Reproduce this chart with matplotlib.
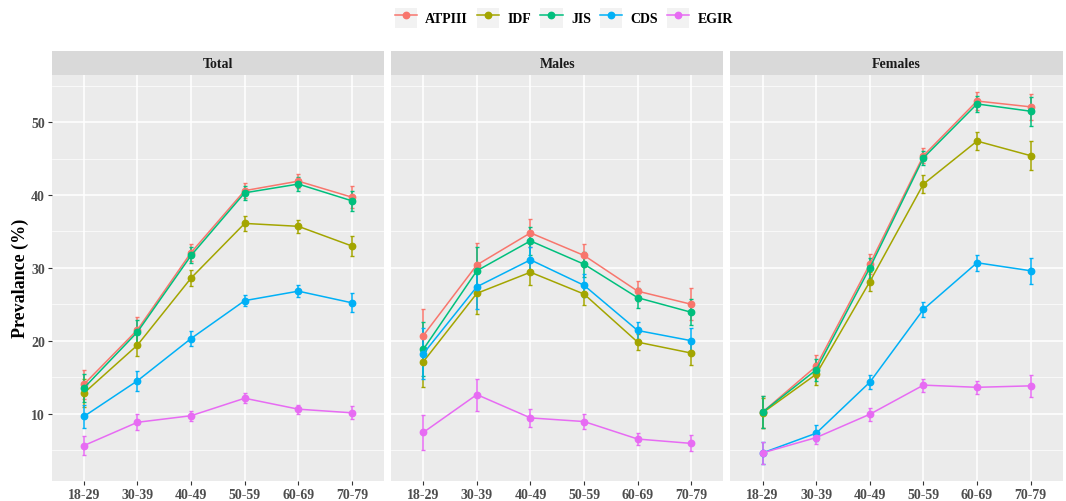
import matplotlib.pyplot as plt
from matplotlib.lines import Line2D
from matplotlib.patches import Patch
from matplotlib.legend_handler import HandlerTuple

ages = ['18-29', '30-39', '40-49', '50-59', '60-69', '70-79']
criteria = ['ATPIII', 'IDF', 'JIS', 'CDS', 'EGIR']
colors = ['#F8766D', '#A3A500', '#00BF7D', '#00B0F6', '#E76BF3']
panels = ['Total', 'Males', 'Females']

# prevalence values (%)
total_vals = {
    'ATPIII': [14.0, 21.5, 32.1, 40.6, 41.9, 39.7],
    'IDF':    [12.8, 19.4, 28.6, 36.1, 35.7, 33.0],
    'JIS':    [13.5, 21.2, 31.7, 40.3, 41.5, 39.2],
    'CDS':    [9.6, 14.5, 20.3, 25.5, 26.8, 25.2],
    'EGIR':   [5.6, 8.8, 9.7, 12.1, 10.6, 10.1],
}
males_vals = {
    'ATPIII': [20.7, 30.4, 34.8, 31.7, 26.8, 25.0],
    'IDF':    [17.1, 26.5, 29.4, 26.4, 19.8, 18.3],
    'JIS':    [18.8, 29.6, 33.7, 30.5, 25.9, 23.9],
    'CDS':    [18.2, 27.4, 31.1, 27.6, 21.4, 20.0],
    'EGIR':   [7.4, 12.6, 9.4, 8.9, 6.5, 5.9],
}
females_vals = {
    'ATPIII': [10.2, 16.5, 30.5, 45.4, 52.9, 52.1],
    'IDF':    [10.1, 15.4, 28.1, 41.5, 47.4, 45.4],
    'JIS':    [10.2, 16.0, 30.0, 45.1, 52.5, 51.5],
    'CDS':    [4.6, 7.3, 14.3, 24.3, 30.7, 29.6],
    'EGIR':   [4.6, 6.7, 9.9, 13.9, 13.6, 13.8],
}

# half width of the 95% CI
total_err = {
    'ATPIII': [2.0, 1.8, 1.2, 1.0, 1.0, 1.5],
    'IDF':    [1.9, 1.5, 1.1, 1.0, 0.9, 1.4],
    'JIS':    [1.9, 1.7, 1.1, 1.0, 1.0, 1.4],
    'CDS':    [1.6, 1.4, 1.0, 0.8, 0.8, 1.3],
    'EGIR':   [1.3, 1.1, 0.7, 0.7, 0.6, 0.9],
}
males_err = {
    'ATPIII': [3.6, 3.0, 1.9, 1.6, 1.4, 2.2],
    'IDF':    [3.4, 2.9, 1.8, 1.5, 1.1, 1.6],
    'JIS':    [3.7, 3.2, 1.9, 1.7, 1.4, 1.8],
    'CDS':    [3.5, 3.0, 1.8, 1.6, 1.2, 1.7],
    'EGIR':   [2.4, 2.2, 1.2, 1.0, 0.8, 1.1],
}
females_err = {
    'ATPIII': [2.2, 1.6, 1.4, 1.0, 1.2, 1.8],
    'IDF':    [2.1, 1.5, 1.3, 1.2, 1.2, 2.0],
    'JIS':    [2.2, 1.5, 1.4, 1.0, 1.1, 2.0],
    'CDS':    [1.5, 1.1, 1.0, 1.0, 1.1, 1.8],
    'EGIR':   [1.5, 0.9, 0.9, 0.9, 0.9, 1.5],
}

plt.rcParams['font.family'] = ['Liberation Serif', 'DejaVu Serif']
plt.rcParams['font.weight'] = 'bold'

fig = plt.figure(figsize=(10.66, 5.02), dpi=100)
left, right, bottom, top = 0.0485, 0.997, 0.040, 0.849
gap = 7 / 1066
w = (right - left - 2 * gap) / 3
strip_h = 23.4 / 502

data = [(total_vals, total_err), (males_vals, males_err), (females_vals, females_err)]
x = list(range(len(ages)))

for p, name in enumerate(panels):
    x0 = left + p * (w + gap)
    ax = fig.add_axes([x0, bottom, w, top - bottom])
    ax.set_facecolor('#EBEBEB')
    vals, errs = data[p]
    for c, col in zip(criteria, colors):
        ax.errorbar(x, vals[c], yerr=errs[c], color=col, lw=1.1, marker='o', ms=4.6,
                    capsize=1.5, elinewidth=1.1, capthick=1.0, zorder=3)
    ax.set_xlim(-0.6, 5.6)
    ax.set_ylim(0.75, 56.5)
    ax.set_xticks(x)
    ax.set_xticklabels(ages)
    ax.set_yticks([10, 20, 30, 40, 50])
    ax.set_yticks([5, 15, 25, 35, 45, 55], minor=True)
    ax.grid(True, which='major', color='white', lw=1.1)
    ax.grid(True, which='minor', axis='y', color='white', lw=0.5)
    ax.set_axisbelow(True)
    for s in ax.spines.values():
        s.set_visible(False)
    ax.tick_params(axis='both', which='major', colors='#333333', labelcolor='#4D4D4D',
                   labelsize=10, length=3, width=0.8, pad=2)
    ax.tick_params(axis='y', which='minor', length=0)
    if p > 0:
        ax.tick_params(axis='y', which='major', labelleft=False, length=0)
    else:
        ax.set_ylabel('Prevalance (%)', fontsize=13, fontweight='bold', labelpad=1)
    # facet strip
    sax = fig.add_axes([x0, top, w, strip_h])
    sax.set_facecolor('#D9D9D9')
    sax.set_xticks([])
    sax.set_yticks([])
    for s in sax.spines.values():
        s.set_visible(False)
    sax.text(0.5, 0.5, name, ha='center', va='center', fontsize=10, fontweight='bold',
             color='#1A1A1A', transform=sax.transAxes)

handles = [(Patch(facecolor='#F2F2F2', edgecolor='none'),
            Line2D([0], [0], color=col, marker='o', ms=4.6, lw=1.1)) for col in colors]
leg = fig.legend(handles, criteria, loc='center', bbox_to_anchor=(0.529, 1 - 19 / 502),
                 ncol=5, frameon=False, fontsize=10, handlelength=1.6, handleheight=1.9,
                 columnspacing=0.65, handletextpad=0.6, borderpad=0.2,
                 handler_map={tuple: HandlerTuple(ndivide=1, pad=0)})
for t in leg.get_texts():
    t.set_fontweight('bold')

fig.savefig('out.png', dpi=100)
